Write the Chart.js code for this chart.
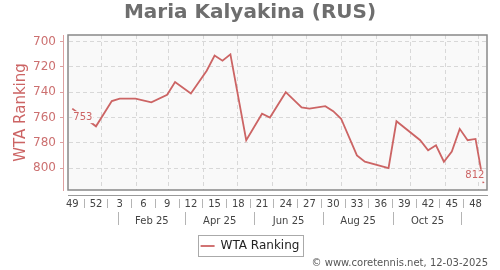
<!DOCTYPE html>
<html>
<head>
<meta charset="utf-8">
<script src="https://cdn.jsdelivr.net/npm/chart.js@4"></script>
<style>
  html, body { margin: 0; padding: 0; background: #fff; }
</style>
</head>
<body>
<canvas id="chart" width="500" height="270"></canvas>
<script>
// weekly WTA ranking, x = weeks after the first entry
const weekIdx = [0, 3, 5, 6, 8, 10, 12, 13, 15, 17, 18, 19, 20, 22, 24, 25, 27, 29, 30, 32, 33, 34, 36, 37, 40, 41, 44, 45, 46, 47, 48, 49, 50, 51, 52];
const ranks   = [753, 767, 747, 745, 745, 748, 742, 732, 741, 723, 711, 715, 710, 778, 757, 760, 740, 752, 753, 751, 755, 761, 790, 795, 800, 763, 778, 786, 782, 795, 787, 769, 778, 777, 812];

// axis labels
const weekTickPos = [0, 3, 6, 9, 12, 15, 18, 21, 24, 27, 30, 33, 36, 39, 42, 45, 48, 51];
const weekTickLabels = ['49', '52', '3', '6', '9', '12', '15', '18', '21', '24', '27', '30', '33', '36', '39', '42', '45', '48'];
const yTicks = [700, 720, 740, 760, 780, 800];
const monthGridDates = ['2025-01-01', '2025-02-01', '2025-03-01', '2025-04-01', '2025-05-01', '2025-06-01',
                        '2025-07-01', '2025-08-01', '2025-09-01', '2025-10-01', '2025-11-01', '2025-12-01'];
const bandEdgeDates = ['2025-01-16', '2025-03-16', '2025-05-16', '2025-07-16', '2025-09-16', '2025-11-16'];
const bandLabels = ['Feb 25', 'Apr 25', 'Jun 25', 'Aug 25', 'Oct 25'];

const startDate = Date.UTC(2024, 11, 6);
const toWeek = d => (Date.parse(d) - startDate) / (7 * 86400000);

const X_MIN = -0.54, X_MAX = 52.45;
const red = '#cc6464';
const plotBg = '#f9f9f9';

Chart.defaults.font.family = "'DejaVu Sans', sans-serif";

// month band ticks: edge, label, edge, label, ... edge
const bandTicks = [];
bandEdgeDates.forEach((d, i) => {
    bandTicks.push({ value: toWeek(d) });
    if (i < bandLabels.length) {
        bandTicks.push({ value: (toWeek(d) + toWeek(bandEdgeDates[i + 1])) / 2 });
    }
});

const plotFrame = {
    id: 'plotFrame',
    afterLayout(c) {
        // leave a small gap between plot box and axis lines
        c.scales.y.right -= 5;
        c.scales.x.top += 5;
    },
    beforeDraw(c) {
        const a = c.chartArea, ctx = c.ctx;
        ctx.save();
        ctx.fillStyle = plotBg;
        ctx.fillRect(a.left, a.top, a.right - a.left, a.bottom - a.top);
        ctx.restore();
    },
    afterDatasetsDraw(c) {
        const a = c.chartArea, ctx = c.ctx;
        ctx.save();
        ctx.strokeStyle = '#888';
        ctx.lineWidth = 1.5;
        ctx.strokeRect(a.left, a.top, a.right - a.left, a.bottom - a.top);

        // first / last value tags
        const pts = c.getDatasetMeta(0).data;
        const first = pts[0], last = pts[pts.length - 1];
        ctx.font = "10px 'DejaVu Sans'";
        ctx.textBaseline = 'middle';
        const tag = (txt, x, y, align) => {
            const w = ctx.measureText(txt).width;
            const left = align === 'left' ? x : x - w;
            ctx.fillStyle = plotBg;
            ctx.fillRect(left - 1, y - 6, w + 2, 12);
            ctx.fillStyle = red;
            ctx.textAlign = align;
            ctx.fillText(txt, x, y);
        };
        tag(String(ranks[0]), first.x + 1, first.y + 8.5, 'left');
        tag(String(ranks[ranks.length - 1]), last.x + 1, last.y - 7.5, 'right');
        ctx.restore();
    },
    afterDraw(c) {
        const ctx = c.ctx;
        ctx.save();
        const hb = c.legend.legendHitBoxes[0];
        if (hb) {
            ctx.strokeStyle = '#aaa';
            ctx.lineWidth = 1;
            ctx.strokeRect(Math.round(hb.left - 3) + 0.5, Math.round(hb.top - 5) + 0.5,
                           Math.round(hb.width + 6), Math.round(hb.height + 9));
        }
        ctx.font = "10px 'DejaVu Sans'";
        ctx.fillStyle = '#555';
        ctx.textAlign = 'right';
        ctx.textBaseline = 'middle';
        ctx.fillText('\u00A9 www.coretennis.net, 12-03-2025', 488, 263);
        ctx.restore();
    }
};

new Chart(document.getElementById('chart'), {
    type: 'line',
    data: {
        datasets: [{
            label: 'WTA Ranking',
            data: weekIdx.map((w, i) => ({ x: w, y: ranks[i] })),
            borderColor: red,
            backgroundColor: red,
            borderWidth: 1.8,
            pointRadius: 0,
            tension: 0
        }]
    },
    options: {
        responsive: false,
        animation: false,
        devicePixelRatio: 1,
        layout: { padding: { top: 0, left: 0, right: 0, bottom: 8 } },
        plugins: {
            tooltip: { enabled: false },
            title: {
                display: true,
                text: 'Maria Kalyakina (RUS)',
                color: '#6e6e6e',
                font: { size: 20, weight: 'bold' },
                padding: { top: 1, bottom: 10 }
            },
            legend: {
                position: 'bottom',
                labels: {
                    usePointStyle: true,
                    pointStyle: 'line',
                    pointStyleWidth: 14,
                    color: '#222',
                    font: { size: 12 },
                    padding: 8
                }
            }
        },
        scales: {
            x: {
                type: 'linear',
                position: 'bottom',
                min: X_MIN,
                max: X_MAX,
                afterBuildTicks: s => { s.ticks = weekTickPos.map(v => ({ value: v })); },
                afterFit: s => { s.height = 22; },
                ticks: {
                    autoSkip: false,
                    maxRotation: 0,
                    padding: -10,
                    color: '#444',
                    font: { size: 10 },
                    callback: (v, i) => weekTickLabels[i]
                },
                grid: {
                    drawOnChartArea: false,
                    offset: true,
                    tickLength: 13,
                    tickColor: '#b4b4b4',
                    tickBorderDash: [0, 3, 10]
                },
                border: { color: '#999', width: 1 }
            },
            xMonth: {
                type: 'linear',
                position: 'bottom',
                min: X_MIN,
                max: X_MAX,
                afterBuildTicks: s => { s.ticks = bandTicks.map(t => ({ value: t.value })); },
                afterFit: s => { s.height = 20; },
                ticks: {
                    autoSkip: false,
                    maxRotation: 0,
                    padding: -10,
                    color: '#444',
                    font: { size: 10 },
                    callback: (v, i) => (i % 2 ? bandLabels[(i - 1) / 2] : '')
                },
                grid: {
                    drawOnChartArea: false,
                    tickLength: 13,
                    tickColor: c => (c.index % 2 ? 'rgba(0,0,0,0)' : '#b4b4b4')
                },
                border: { display: false }
            },
            xGrid: {
                type: 'linear',
                position: 'top',
                min: X_MIN,
                max: X_MAX,
                afterBuildTicks: s => { s.ticks = monthGridDates.map(d => ({ value: toWeek(d) })); },
                ticks: { display: false },
                grid: { drawTicks: false, color: '#d8d8d8' },
                border: { display: false, dash: [4, 3] }
            },
            y: {
                type: 'linear',
                position: 'left',
                reverse: true,
                min: 694.7,
                max: 817.4,
                afterBuildTicks: s => { s.ticks = yTicks.map(v => ({ value: v })); },
                afterFit: s => { s.width = 68; },
                ticks: { color: '#cc7070', font: { size: 12 }, padding: 4 },
                grid: { color: '#d8d8d8', tickColor: '#dca0a0', tickLength: 3 },
                border: { color: '#dca0a0', dash: [4, 3] },
                title: {
                    display: true,
                    text: 'WTA Ranking',
                    color: red,
                    font: { size: 15 },
                    padding: { top: 12, bottom: 0 }
                }
            },
            yR: {
                type: 'linear',
                position: 'right',
                afterFit: s => { s.width = 13; },
                ticks: { display: false },
                grid: { display: false, drawTicks: false },
                border: { display: false }
            }
        }
    },
    plugins: [plotFrame]
});
</script>
</body>
</html>
